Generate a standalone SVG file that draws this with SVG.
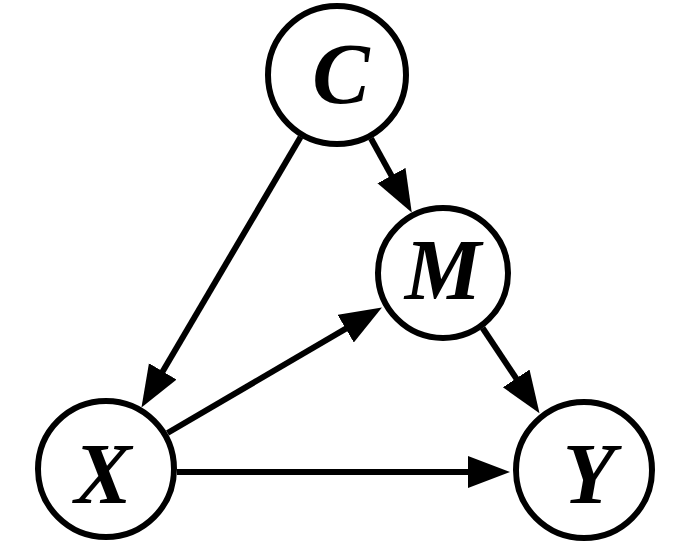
<svg xmlns="http://www.w3.org/2000/svg" width="688" height="547" viewBox="0 0 688 547">
<style>
.node circle { fill: #fff; stroke: #000; stroke-width: 6; }
.node text { font-family: "Liberation Serif", "Times New Roman", serif; font-weight: bold; font-style: italic; font-size: 86px; fill: #000; text-anchor: middle; }
.edge { stroke: #000; stroke-width: 6; fill: none; marker-end: url(#arrow); }
</style>
<defs>
<marker id="arrow" markerUnits="userSpaceOnUse" markerWidth="44" markerHeight="34" refX="22" refY="16" orient="auto" viewBox="0 0 44 34">
<path d="M0,0 L42,16 L0,32 z" fill="#000"/>
</marker>
</defs>
<rect width="688" height="547" fill="#fff"/>
<g id="connectors">
<line class="edge" x1="300.6" y1="137" x2="151.6" y2="390.3"/>
<line class="edge" x1="371" y1="138.5" x2="402.1" y2="194.9"/>
<line class="edge" x1="167.5" y1="433" x2="364.7" y2="317.6"/>
<line class="edge" x1="177" y1="472" x2="490" y2="472"/>
<line class="edge" x1="482.6" y1="328" x2="528.4" y2="396.7"/>
</g>
<g id="node-C" class="node"><circle cx="337" cy="75" r="69"/><text x="341" y="103">C</text></g>
<g id="node-M" class="node"><circle cx="443" cy="273" r="65"/><text x="443" y="299">M</text></g>
<g id="node-X" class="node"><circle cx="106" cy="469" r="68"/><text x="103" y="503">X</text></g>
<g id="node-Y" class="node"><circle cx="584" cy="470" r="68"/><text x="589" y="503">Y</text></g>
</svg>
